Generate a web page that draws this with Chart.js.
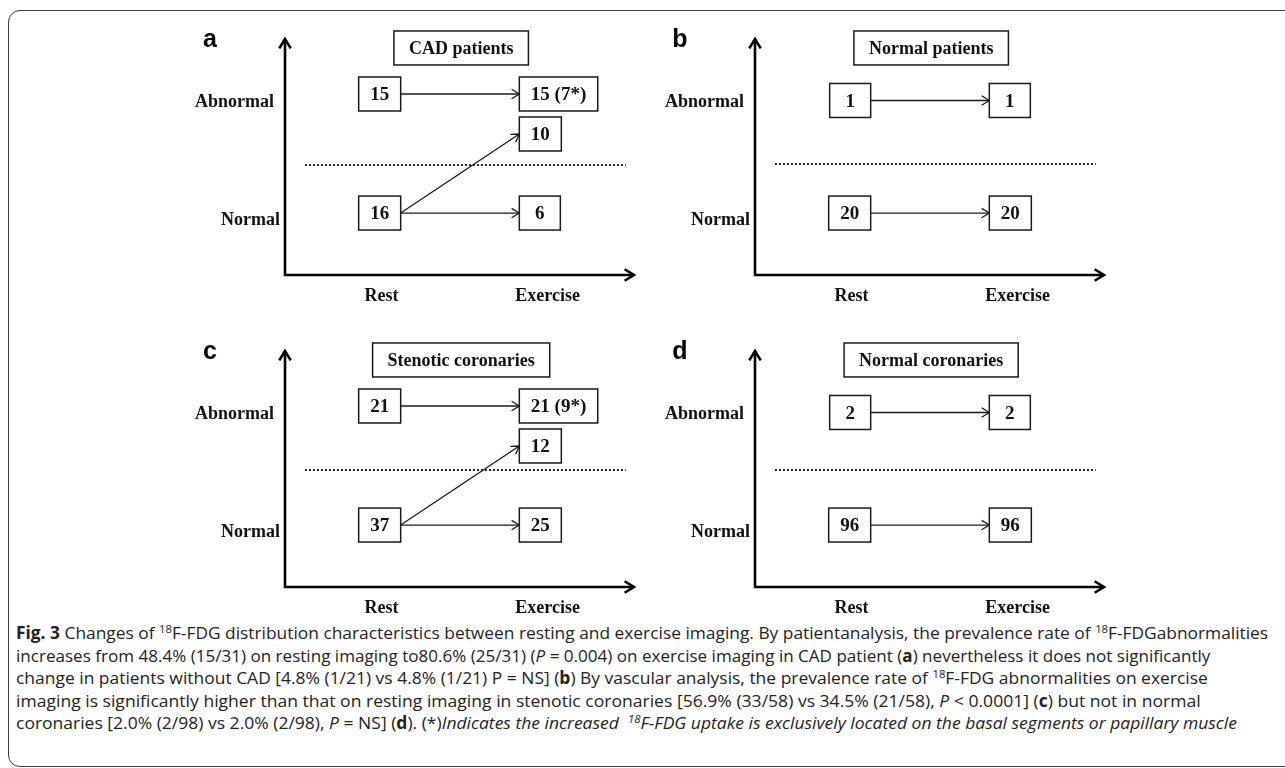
<!DOCTYPE html>
<html>
<head>
<meta charset="utf-8">
<script src="https://cdn.jsdelivr.net/npm/chart.js@4.4.1/dist/chart.umd.min.js"></script>
<style>
html,body{margin:0;padding:0;background:#fff;width:1285px;height:768px;overflow:hidden;position:relative;}
#frame{position:absolute;left:8px;top:10px;width:1300px;height:757px;border:1.5px solid #3a3a3a;border-radius:12px;box-sizing:border-box;}
canvas.panel{position:absolute;}
#caption{position:absolute;left:16px;top:0;font-family:'Open Sans',sans-serif;font-size:17px;color:#222;}
.cl{position:absolute;left:0;white-space:nowrap;line-height:22px;height:22px;transform-origin:0 50%;}
.sp{font-size:11px;position:relative;top:-6px;}
b{font-weight:700;}
</style>
</head>
<body>
<div id="frame"></div>
<div id="caption">
  <div class="cl" style="top:622px" data-w="1252"><b>Fig. 3</b> Changes of <span class="sp">18</span>F-FDG distribution characteristics between resting and exercise imaging. By patientanalysis, the prevalence rate of <span class="sp">18</span>F-FDGabnormalities</div>
  <div class="cl" style="top:645px" data-w="1194">increases from 48.4% (15/31) on resting imaging to80.6% (25/31) (<i>P</i> = 0.004) on exercise imaging in CAD patient (<b>a</b>) nevertheless it does not significantly</div>
  <div class="cl" style="top:667px" data-w="1192">change in patients without CAD [4.8% (1/21) vs 4.8% (1/21) P = NS] (<b>b</b>) By vascular analysis, the prevalence rate of <span class="sp">18</span>F-FDG abnormalities on exercise</div>
  <div class="cl" style="top:690px" data-w="1185">imaging is significantly higher than that on resting imaging in stenotic coronaries [56.9% (33/58) vs 34.5% (21/58), <i>P</i> &lt; 0.0001] (<b>c</b>) but not in normal</div>
  <div class="cl" style="top:712px" data-w="1221">coronaries [2.0% (2/98) vs 2.0% (2/98), <i>P</i> = NS] (<b>d</b>). (*)<i>Indicates the increased &nbsp;<span class="sp">18</span>F-FDG uptake is exclusively located on the basal segments or papillary muscle</i></div>
</div>
<script>
// ---------- DATA ----------
const panelLetters = ['a', 'b', 'c', 'd'];
const panelTitles = ['CAD patients', 'Normal patients', 'Stenotic coronaries', 'Normal coronaries'];
const xTickLabels = ['Rest', 'Exercise'];          // x = 1, 2
const yTickLabels = ['Normal', 'Abnormal'];        // y = 1, 2
const restAbnormal = ['15', '1', '21', '2'];
const restNormal = ['16', '20', '37', '96'];
const exerciseAbnormal = ['15 (7*)', '1', '21 (9*)', '2'];
const exerciseNewAbnormal = ['10', null, '12', null];
const exerciseNormal = ['6', '20', '25', '96'];

// ---------- LAYOUT (positions / styles, not data) ----------
const origins = [[285, 275], [755, 275], [285, 587], [755, 587]];
const X_MIN = 0.42, X_MAX = 2.52, Y_MIN = 0.525, Y_MAX = 2.525;
const REST_BOX_RIGHT = 1.116, EX_BOX_LEFT = 1.83;
const TITLE_X = 1.48, TITLE_Y = 2.449;
const NORMAL_LEVEL = 1.05, NEW_ABN_LEVEL = 1.72;
const abnormalLevel = [2.059, 2.004, 2.059, 2.004];
const dividerLevel = [1.457, 1.466, 1.517, 1.517];
const DIV_FROM = 0.54, DIV_TO = 2.47;
const SERIF_FAMILY = "'Liberation Serif', 'Times New Roman', serif";
const FONT_BOX = 'bold 19px ' + SERIF_FAMILY;
const FONT_LABEL = 'bold 18px ' + SERIF_FAMILY;
const INK = '#111';

function chevron(ctx, x1, y1, x2, y2, len, half) {
  const a = Math.atan2(y2 - y1, x2 - x1);
  ctx.beginPath();
  ctx.moveTo(x2 - len * Math.cos(a - half), y2 - len * Math.sin(a - half));
  ctx.lineTo(x2, y2);
  ctx.lineTo(x2 - len * Math.cos(a + half), y2 - len * Math.sin(a + half));
  ctx.stroke();
}

function boxWidth(ctx, label, font, minW, pad) {
  ctx.font = font;
  return Math.max(minW, ctx.measureText(label).width + pad * 2);
}

function drawBox(ctx, label, font, left, cy, w, h) {
  ctx.lineWidth = 1.5;
  ctx.strokeStyle = '#1a1a1a';
  ctx.fillStyle = '#fff';
  ctx.fillRect(left, cy - h / 2, w, h);
  ctx.strokeRect(left, cy - h / 2, w, h);
  ctx.fillStyle = INK;
  ctx.font = font;
  ctx.textAlign = 'center';
  ctx.textBaseline = 'alphabetic';
  ctx.fillText(label, left + w / 2, cy + 6.2);
}

const diagramPlugin = {
  id: 'diagram',
  afterDatasetsDraw(chart, args, opts) {
    const i = opts.index;
    const ctx = chart.ctx;
    const xs = chart.scales.x, ys = chart.scales.y;
    const X = v => xs.getPixelForValue(v), Y = v => ys.getPixelForValue(v);
    const ox = X(X_MIN), oy = Y(Y_MIN), tipX = X(X_MAX), tipY = Y(Y_MAX);
    ctx.save();
    // axes
    ctx.strokeStyle = '#000';
    ctx.lineWidth = 2.6;
    ctx.beginPath();
    ctx.moveTo(ox, oy + 1.3); ctx.lineTo(ox, tipY + 1);
    ctx.moveTo(ox - 1.3, oy); ctx.lineTo(tipX - 1, oy);
    ctx.stroke();
    chevron(ctx, ox, oy, ox, tipY, 11, 0.55);
    chevron(ctx, ox, oy, tipX, oy, 11, 0.55);
    // divider
    ctx.lineWidth = 2;
    ctx.setLineDash([2, 2]);
    ctx.strokeStyle = '#222';
    ctx.beginPath();
    ctx.moveTo(X(DIV_FROM), Y(dividerLevel[i]));
    ctx.lineTo(X(DIV_TO), Y(dividerLevel[i]));
    ctx.stroke();
    ctx.setLineDash([]);
    // arrowheads on the transition lines (lines drawn by the datasets)
    ctx.lineWidth = 1.3;
    ctx.strokeStyle = '#1a1a1a';
    chart.data.datasets.forEach((ds, k) => {
      const pts = chart.getDatasetMeta(k).data;
      chevron(ctx, pts[0].x, pts[0].y, pts[1].x, pts[1].y, 9, 0.55);
    });
    // boxes
    const H = 34, PAD = 11.5, MINW = 41;
    const restR = X(REST_BOX_RIGHT), exL = X(EX_BOX_LEFT);
    let w = boxWidth(ctx, restAbnormal[i], FONT_BOX, MINW, PAD);
    drawBox(ctx, restAbnormal[i], FONT_BOX, restR - w, Y(abnormalLevel[i]), w, H);
    w = boxWidth(ctx, restNormal[i], FONT_BOX, MINW, PAD);
    drawBox(ctx, restNormal[i], FONT_BOX, restR - w, Y(NORMAL_LEVEL), w, H);
    w = boxWidth(ctx, exerciseAbnormal[i], FONT_BOX, MINW, PAD);
    drawBox(ctx, exerciseAbnormal[i], FONT_BOX, exL, Y(abnormalLevel[i]), w, H);
    if (exerciseNewAbnormal[i] !== null) {
      w = boxWidth(ctx, exerciseNewAbnormal[i], FONT_BOX, MINW, PAD);
      drawBox(ctx, exerciseNewAbnormal[i], FONT_BOX, exL, Y(NEW_ABN_LEVEL), w, H);
    }
    w = boxWidth(ctx, exerciseNormal[i], FONT_BOX, MINW, PAD);
    drawBox(ctx, exerciseNormal[i], FONT_BOX, exL, Y(NORMAL_LEVEL), w, H);
    // title box
    const tw = boxWidth(ctx, panelTitles[i], FONT_LABEL, 0, 15);
    drawBox(ctx, panelTitles[i], FONT_LABEL, X(TITLE_X) - tw / 2, Y(TITLE_Y), tw, H);
    // axis labels
    ctx.fillStyle = INK;
    ctx.font = FONT_LABEL;
    ctx.textBaseline = 'alphabetic';
    ctx.textAlign = 'right';
    ctx.fillText(yTickLabels[1], ox - 11, Y(2) + 6);
    ctx.fillText(yTickLabels[0], ox - 5, Y(1) + 6);
    ctx.textAlign = 'center';
    ctx.fillText(xTickLabels[0], X(1), oy + 20 + 6);
    ctx.fillText(xTickLabels[1], X(2), oy + 20 + 6);
    // panel letter
    ctx.font = "bold 25px 'Liberation Sans', Arial, sans-serif";
    ctx.fillStyle = '#000';
    ctx.fillText(panelLetters[i], ox - 75, tipY + 8);
    ctx.restore();
  }
};

panelLetters.forEach((letter, i) => {
  const [ox, oy] = origins[i];
  const cv = document.createElement('canvas');
  cv.className = 'panel';
  cv.width = 500; cv.height = 310;
  cv.style.left = (ox - 135) + 'px';
  cv.style.top = (oy - 260) + 'px';
  document.body.appendChild(cv);
  const transitions = [
    [[REST_BOX_RIGHT, abnormalLevel[i]], [EX_BOX_LEFT, abnormalLevel[i]]],
    [[REST_BOX_RIGHT, NORMAL_LEVEL], [EX_BOX_LEFT, NORMAL_LEVEL]]
  ];
  if (exerciseNewAbnormal[i] !== null) {
    transitions.push([[REST_BOX_RIGHT, NORMAL_LEVEL], [EX_BOX_LEFT, NEW_ABN_LEVEL]]);
  }
  new Chart(cv, {
    type: 'line',
    data: {
      datasets: transitions.map(t => ({
        data: t.map(p => ({ x: p[0], y: p[1] })),
        borderColor: '#1a1a1a', borderWidth: 1.3, pointRadius: 0, tension: 0, fill: false
      }))
    },
    options: {
      responsive: false, animation: false, devicePixelRatio: 1,
      layout: { padding: { left: 135, right: 16, top: 24, bottom: 50 } },
      scales: {
        x: { type: 'linear', min: X_MIN, max: X_MAX, display: false },
        y: { type: 'linear', min: Y_MIN, max: Y_MAX, display: false }
      },
      plugins: { legend: { display: false }, tooltip: { enabled: false }, diagram: { index: i } },
      events: []
    },
    plugins: [diagramPlugin]
  });
});

function fitCaption() {
  document.querySelectorAll('.cl').forEach(el => {
    el.style.transform = 'none';
    const target = parseFloat(el.dataset.w);
    const s = target / el.offsetWidth;
    el.style.transform = 'scaleX(' + s.toFixed(4) + ')';
  });
}
fitCaption();
if (document.fonts && document.fonts.ready) document.fonts.ready.then(fitCaption);
</script>
</body>
</html>
